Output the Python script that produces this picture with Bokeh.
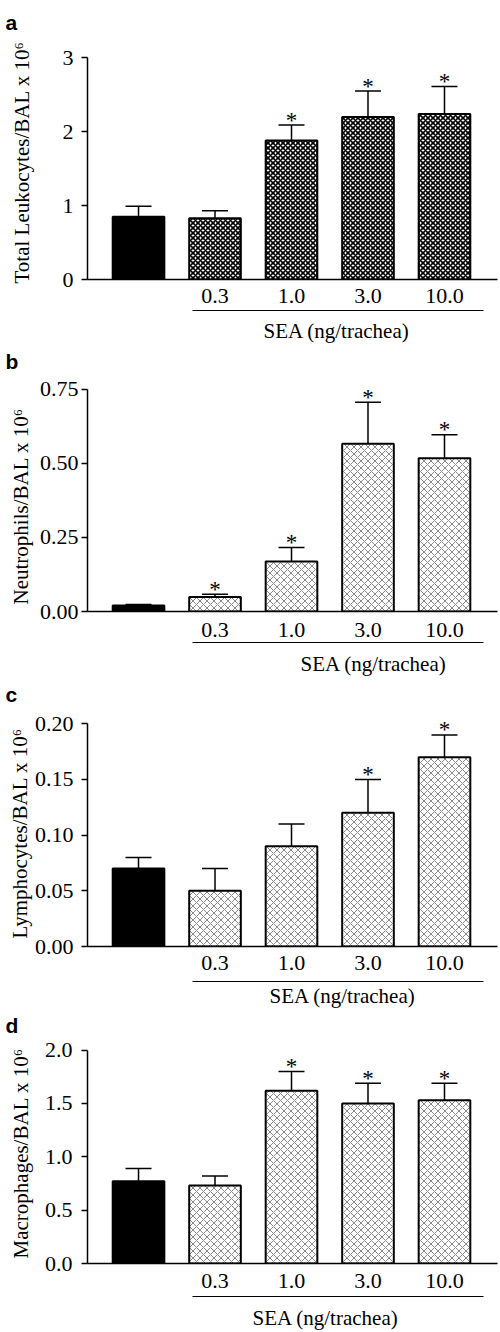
from bokeh.plotting import figure
from bokeh.models import (ColumnDataSource, FixedTicker, LinearAxis, Range1d, Title,
                          Whisker, TeeHead, NumeralTickFormatter)
from bokeh.layouts import column
from bokeh.embed import file_html
from bokeh.resources import INLINE
from bokeh.core.properties import value

# ---------------- data ----------------
groups = [1, 2, 3, 4, 5]               # control, then SEA doses
dose_labels = ["0.3", "1.0", "3.0", "10.0"]
xlabel = "SEA (ng/trachea)"

leuk_mean = [0.85, 0.83, 1.88, 2.20, 2.24]
leuk_upper = [0.99, 0.93, 2.09, 2.55, 2.61]
leuk_sig = [False, False, True, True, True]

neut_mean = [0.020, 0.049, 0.169, 0.566, 0.517]
neut_upper = [0.024, 0.058, 0.216, 0.706, 0.596]
neut_sig = [False, True, True, True, True]

lymph_mean = [0.070, 0.050, 0.090, 0.120, 0.170]
lymph_upper = [0.080, 0.070, 0.110, 0.150, 0.190]
lymph_sig = [False, False, False, True, True]

macro_mean = [0.77, 0.73, 1.62, 1.50, 1.53]
macro_upper = [0.89, 0.82, 1.80, 1.69, 1.69]
macro_sig = [False, False, True, True, True]

SERIF = "Liberation Serif"
SANS = "Liberation Sans"

# layout (pixels) per panel
panels = [
    dict(letter="a", ylabel="Total Leukocytes/BAL x 10\u2076", mean=leuk_mean, upper=leuk_upper,
         sig=leuk_sig, ticks=[0, 1, 2, 3], fmt="0", y_end=3.166, h=345, top=45, bottom=66,
         hatch_color="black", hatch_scale=5, hatch_weight=1.6, tick_standoff=8,
         letter_gap=13, ylab_gap=27, ylab_off=-4, dose_standoff=9, lab_gap=6, sea_gap=7,
         sea_off=176),
    dict(letter="b", ylabel="Neutrophils/BAL x 10\u2076", mean=neut_mean, upper=neut_upper,
         sig=neut_sig, ticks=[0, 0.25, 0.5, 0.75], fmt="0.00", y_end=0.803, h=333, top=28,
         bottom=67, hatch_color="#8a8a8a", hatch_scale=7, hatch_weight=1, tick_standoff=3,
         letter_gap=2, ylab_gap=5, ylab_off=7, dose_standoff=11, lab_gap=4, sea_gap=8,
         sea_off=213),
    dict(letter="c", ylabel="Lymphocytes/BAL x 10\u2076", mean=lymph_mean, upper=lymph_upper,
         sig=lymph_sig, ticks=[0, 0.05, 0.1, 0.15, 0.2], fmt="0.00", y_end=0.2164, h=331, top=27,
         bottom=63, hatch_color="#8a8a8a", hatch_scale=7, hatch_weight=1, tick_standoff=8,
         letter_gap=1, ylab_gap=0, ylab_off=8, dose_standoff=9, lab_gap=10, sea_gap=0,
         sea_off=182),
    dict(letter="d", ylabel="Macrophages/BAL x 10\u2076", mean=macro_mean, upper=macro_upper,
         sig=macro_sig, ticks=[0, 0.5, 1.0, 1.5, 2.0], fmt="0.0", y_end=2.0525, h=323, top=35,
         bottom=69, hatch_color="#8a8a8a", hatch_scale=7, hatch_weight=1, tick_standoff=9,
         letter_gap=9, ylab_gap=10, ylab_off=5, dose_standoff=10, lab_gap=7, sea_gap=8,
         sea_off=165),
]


def spacer(size, tick, line=False, bounds=None):
    """An empty axis whose only job is to take `size` pixels (optionally drawing its line)."""
    ax = LinearAxis(ticker=FixedTicker(ticks=[tick]), major_tick_out=max(size - 1, 0),
                    major_tick_in=0, minor_tick_out=0, minor_tick_in=0,
                    major_tick_line_alpha=0, minor_tick_line_color=None,
                    major_label_standoff=0, major_label_overrides={tick: ""},
                    major_label_text_font_size="1px", major_label_text_alpha=0)
    if line:
        ax.axis_line_color = "black"
        ax.axis_line_width = 1.2
        ax.bounds = bounds
    else:
        ax.axis_line_color = None
    return ax


def make_panel(cfg):
    p = figure(width=500, height=cfg["h"], min_border_left=87, min_border_right=3,
               min_border_top=cfg["top"], min_border_bottom=cfg["bottom"],
               x_range=Range1d(0.333, 5.693), y_range=Range1d(0, cfg["y_end"]),
               output_backend="svg", toolbar_location=None)
    p.outline_line_color = None
    p.xgrid.visible = False
    p.ygrid.visible = False

    ctrl = ColumnDataSource(dict(x=groups[:1], top=cfg["mean"][:1]))
    sea = ColumnDataSource(dict(x=groups[1:], top=cfg["mean"][1:]))
    p.vbar(x="x", top="top", width=0.675, source=ctrl, fill_color="black",
           line_color="black", line_width=2)
    p.vbar(x="x", top="top", width=0.675, source=sea, fill_color="white",
           line_color="black", line_width=2, hatch_pattern="diagonal_cross",
           hatch_color=cfg["hatch_color"], hatch_scale=cfg["hatch_scale"],
           hatch_weight=cfg["hatch_weight"])

    err = ColumnDataSource(dict(x=groups, lower=cfg["mean"], upper=cfg["upper"]))
    p.add_layout(Whisker(base="x", lower="lower", upper="upper", source=err,
                         dimension="height", line_width=1.5, line_color="black",
                         upper_head=TeeHead(size=26, line_width=1.5, line_color="black"),
                         lower_head=None))

    sx = [g for g, s in zip(groups, cfg["sig"]) if s]
    sy = [u for u, s in zip(cfg["upper"], cfg["sig"]) if s]
    p.text(x=sx, y=sy, text=["*"] * len(sx), text_font=value(SERIF), text_font_size="23px",
           text_align="center", text_baseline="alphabetic", y_offset=-5, text_color="black")

    # y axis
    ya = p.yaxis[0]
    ya.ticker = FixedTicker(ticks=cfg["ticks"])
    ya.formatter = NumeralTickFormatter(format=cfg["fmt"])
    ya.bounds = (cfg["ticks"][0], cfg["ticks"][-1])
    ya.major_tick_out = 6
    ya.major_tick_in = 0
    ya.minor_tick_line_color = None
    ya.minor_tick_out = 0
    ya.axis_line_width = 1.5
    ya.major_tick_line_width = 1.5
    ya.major_label_standoff = cfg["tick_standoff"]
    ya.major_label_text_font = SERIF
    ya.major_label_text_font_size = "22px"
    ya.major_label_text_color = "black"

    # x axis: baseline + dose labels
    xa = p.xaxis[0]
    xa.ticker = FixedTicker(ticks=groups[1:])
    xa.major_label_overrides = {g: lab for g, lab in zip(groups[1:], dose_labels)}
    xa.major_tick_line_color = None
    xa.major_tick_out = 0
    xa.major_tick_in = 0
    xa.minor_tick_line_color = None
    xa.minor_tick_out = 0
    xa.axis_line_width = 1.5
    xa.major_label_standoff = cfg["dose_standoff"]
    xa.major_label_text_font = SERIF
    xa.major_label_text_font_size = "22px"
    xa.major_label_text_color = "black"

    # gap, then the line under the SEA doses, then the SEA label
    if cfg["lab_gap"] > 0:
        p.add_layout(spacer(cfg["lab_gap"], 3), "below")
    p.add_layout(spacer(cfg["sea_gap"], 3, line=True, bounds=(1.706, 5.51)), "below")
    p.add_layout(Title(text=xlabel, align="left", offset=cfg["sea_off"], standoff=0,
                       text_font=SERIF, text_font_size="21px", text_font_style="normal",
                       text_color="black"), "below")

    # y label
    if cfg["ylab_gap"] > 0:
        p.add_layout(spacer(cfg["ylab_gap"], cfg["ticks"][1]), "left")
    p.add_layout(Title(text=cfg["ylabel"], align="left", offset=cfg["ylab_off"], standoff=0,
                       text_font=SERIF, text_font_size="21px", text_font_style="normal",
                       text_color="black"), "left")

    # panel letter
    if cfg["letter_gap"] > 0:
        p.add_layout(spacer(cfg["letter_gap"], 3), "above")
    p.add_layout(Title(text=cfg["letter"], align="left", offset=-82, standoff=0, text_font=SANS,
                       text_font_size="21px", text_font_style="bold", text_color="black"),
                 "above")
    return p


figs = [make_panel(c) for c in panels]
layout = column(*figs, spacing=0)
open("out.html", "w").write(file_html(layout, INLINE))
